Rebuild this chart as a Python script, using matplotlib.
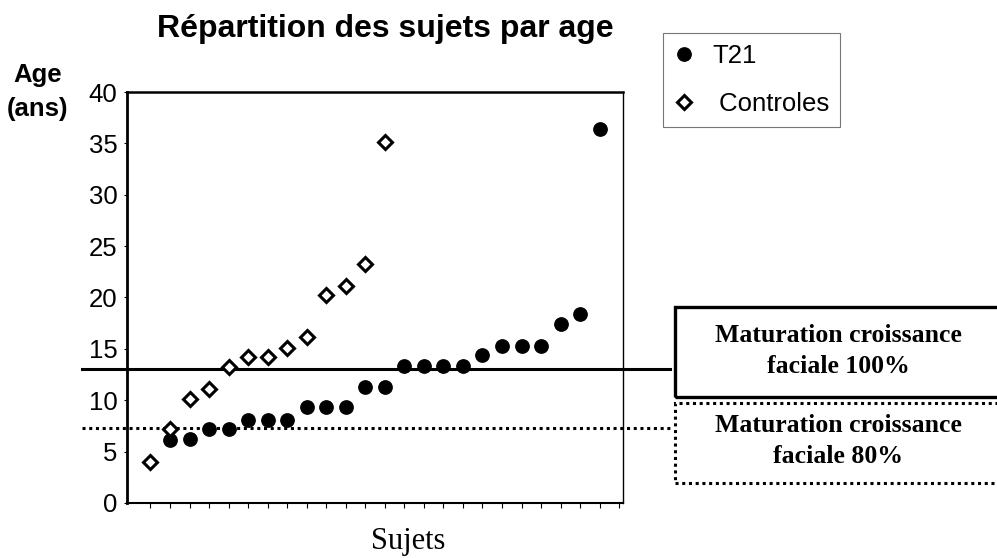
import matplotlib
matplotlib.use("Agg")
import matplotlib.pyplot as plt
from matplotlib.patches import Rectangle

# Donnees
sujets_t21 = list(range(2, 25))
age_t21 = [6.1, 6.2, 7.2, 7.2, 8.1, 8.1, 8.1, 9.3, 9.3, 9.3, 11.3, 11.3,
           13.3, 13.3, 13.3, 13.3, 14.4, 15.3, 15.3, 15.3, 17.4, 18.4, 36.4]
sujets_ctrl = list(range(1, 14))
age_ctrl = [4.0, 7.2, 10.1, 11.1, 13.2, 14.2, 14.2, 15.1, 16.2, 20.2, 21.1,
            23.3, 35.1]
seuil_100 = 13.0
seuil_80 = 7.3
yticks = [0, 5, 10, 15, 20, 25, 30, 35, 40]

SANS = ["Liberation Sans", "DejaVu Sans"]
SERIF = ["Liberation Serif", "DejaVu Serif"]

fig = plt.figure(figsize=(9.97, 5.58), dpi=100)
ax = fig.add_axes([0.1274, 0.0986, 0.4976, 0.7365])

ax.plot(sujets_t21, age_t21, "o", color="black", markersize=9.6,
        linestyle="none", label="T21", zorder=3)
ax.plot(sujets_ctrl, age_ctrl, "D", markerfacecolor="white",
        markeredgecolor="black", markeredgewidth=2.2, markersize=7.4,
        linestyle="none", label=" Controles", zorder=4)

# seuils de maturation (debordent du cadre)
ax.axhline(seuil_100, xmin=-0.091, xmax=1.095, color="black", lw=2.2,
           clip_on=False, zorder=2)
ax.axhline(seuil_80, xmin=-0.091, xmax=1.099, color="black", lw=2.2,
           linestyle=(0, (1, 1.2)), clip_on=False, zorder=2)

ax.set_xlim(-0.2, 25.2)
ax.set_ylim(0, 40)
ax.set_xticks(range(1, 26))
ax.set_xticklabels([])
ax.set_yticks(yticks)
ax.set_yticklabels([str(v) for v in yticks], family=SANS, fontsize=18.5)
ax.tick_params(axis="x", direction="out", length=3.6, width=0.8)
ax.tick_params(axis="y", direction="out", length=2, width=0.8, pad=5)
for cote, lw in [("left", 2.0), ("bottom", 1.5), ("top", 1.8), ("right", 1.0)]:
    ax.spines[cote].set_linewidth(lw)

fig.text(0.3861, 0.948, "Répartition des sujets par age", family=SANS,
         fontsize=23, fontweight="bold", ha="center", va="center")
fig.text(0.038, 0.835, "Age\n(ans)", family=SANS, fontsize=18.5,
         fontweight="bold", ha="center", va="center", multialignment="center",
         linespacing=1.5)
fig.text(0.409, 0.03, "Sujets", family=SERIF, fontsize=22,
         ha="center", va="center")

leg = ax.legend(loc="upper left", bbox_to_anchor=(0.665, 0.941),
                bbox_transform=fig.transFigure, prop={"family": SANS, "size": 18.5},
                frameon=True, fancybox=False, edgecolor="#555555",
                borderpad=0.42, labelspacing=0.95, handlelength=0.8,
                handletextpad=0.7, borderaxespad=0, numpoints=1)
leg.get_frame().set_linewidth(0.8)

# encadres a droite
fig.add_artist(Rectangle((0.677, 0.2885), 0.35, 0.161, transform=fig.transFigure,
                         fill=False, edgecolor="black", lw=2.4, clip_on=False))
fig.add_artist(Rectangle((0.677, 0.1344), 0.35, 0.143, transform=fig.transFigure,
                         fill=False, edgecolor="black", lw=2.2,
                         linestyle=(0, (1, 1.2)), clip_on=False))
fig.text(0.8405, 0.371, "Maturation croissance\nfaciale 100%", family=SERIF,
         fontsize=18.5, fontweight="bold", ha="center", va="center",
         multialignment="center", linespacing=1.42)
fig.text(0.8405, 0.209, "Maturation croissance\nfaciale 80%", family=SERIF,
         fontsize=18.5, fontweight="bold", ha="center", va="center",
         multialignment="center", linespacing=1.45)

fig.savefig("out.png", dpi=100)
